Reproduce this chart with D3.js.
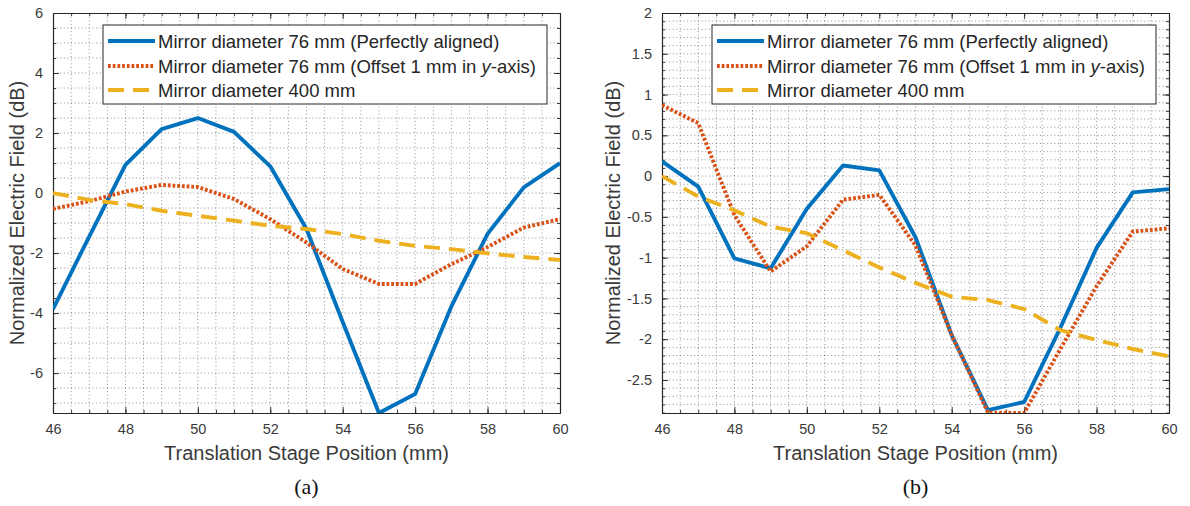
<!DOCTYPE html>
<html><head><meta charset="utf-8">
<script src="https://cdn.jsdelivr.net/npm/d3@7"></script>
<style>
body{margin:0;background:#fff;}
svg{display:block;font-family:"Liberation Sans",Arial,Helvetica,sans-serif;}
</style>
</head><body>
<svg id="c" width="1190" height="506"></svg>
<script>
// ---------- data ----------
const positions = [46,47,48,49,50,51,52,53,54,55,56,57,58,59,60];
const seriesNames = [
  "Mirror diameter 76 mm (Perfectly aligned)",
  "Mirror diameter 76 mm (Offset 1 mm in ",
  "Mirror diameter 400 mm"
];
// panel (a)
const aAligned = [-3.87,-1.45,0.94,2.13,2.5,2.04,0.89,-1.2,-4.3,-7.33,-6.7,-3.78,-1.36,0.19,1.0];
const aOffset  = [-0.53,-0.27,0.05,0.27,0.2,-0.2,-0.87,-1.65,-2.53,-3.03,-3.03,-2.37,-1.8,-1.15,-0.87];
const aLarge   = [0.0,-0.23,-0.37,-0.59,-0.76,-0.92,-1.09,-1.2,-1.37,-1.59,-1.76,-1.87,-2.01,-2.13,-2.23];
// panel (b)
const bAligned = [0.18,-0.13,-1.01,-1.13,-0.4,0.13,0.07,-0.75,-1.95,-2.87,-2.77,-1.86,-0.88,-0.2,-0.16];
const bOffset  = [0.87,0.65,-0.48,-1.17,-0.86,-0.29,-0.23,-0.85,-1.95,-2.9,-2.905,-2.12,-1.35,-0.68,-0.64];
const bLarge   = [0.0,-0.25,-0.42,-0.62,-0.7,-0.91,-1.12,-1.31,-1.48,-1.52,-1.63,-1.89,-2.01,-2.12,-2.21];
// ticks
const xTicks  = [46,48,50,52,54,56,58,60];
const aYTicks = [-6,-4,-2,0,2,4,6];
const bYTicks = [-2.5,-2,-1.5,-1,-0.5,0,0.5,1,1.5,2];
const panelLabels = ["(a)","(b)"];

// ---------- styling ----------
const colors = ["#0072BD","#D95319","#EDB120"];
const dashes = [null,"2.8,1.9","16,9"];
const axisColor = "#262626";

const svg = d3.select("#c");

const panels = [
  {left:53, right:560, top:13, bottom:413, yMax:6, yTicks:aYTicks, xMinor:0.5, yMinor:0.5,
   series:[aAligned,aOffset,aLarge], label:panelLabels[0], ylabX:17, legX:103},
  {left:662, right:1169, top:13, bottom:413, yMax:2, yTicks:bYTicks, xMinor:0.5, yMinor:0.1,
   series:[bAligned,bOffset,bLarge], label:panelLabels[1], ylabX:613, legX:712}
];

function rangeStep(a,b,s){
  const out=[];const n0=Math.ceil(a/s-1e-9), n1=Math.floor(b/s+1e-9);
  for(let n=n0;n<=n1;n++) out.push(+(n*s).toFixed(6));
  return out;
}

panels.forEach((p,pi)=>{
  const yMin = d3.min(p.series.flat());
  const x = d3.scaleLinear().domain([46,60]).range([p.left,p.right]);
  const y = d3.scaleLinear().domain([yMin,p.yMax]).range([p.bottom,p.top]);
  const g = svg.append("g");
  const w = p.right-p.left, h = p.bottom-p.top;

  // grid (dotted)
  const grid = g.append("g").attr("stroke","#262626").attr("stroke-opacity",0.5)
     .attr("stroke-width",1).attr("stroke-dasharray","1,2.6");
  rangeStep(46,60,p.xMinor).forEach(v=>{
    if (v===46||v===60) return;
    grid.append("line").attr("x1",x(v)).attr("x2",x(v)).attr("y1",p.top).attr("y2",p.bottom);
  });
  rangeStep(yMin,p.yMax,p.yMinor).forEach(v=>{
    if (Math.abs(y(v)-p.top)<0.5||Math.abs(y(v)-p.bottom)<0.5) return;
    grid.append("line").attr("x1",p.left).attr("x2",p.right).attr("y1",y(v)).attr("y2",y(v));
  });

  // axes with d3 axis generators (ticks inward)
  const fmt = d=>String(d);
  g.append("g").attr("transform",`translate(0,${p.bottom})`)
     .call(d3.axisBottom(x).tickValues(xTicks).tickFormat(fmt).tickSizeInner(-6).tickSizeOuter(0).tickPadding(11));
  g.append("g").attr("transform",`translate(${p.left},0)`)
     .call(d3.axisLeft(y).tickValues(p.yTicks).tickFormat(fmt).tickSizeInner(-6).tickSizeOuter(0).tickPadding(10));
  g.append("g").attr("transform",`translate(0,${p.top})`)
     .call(d3.axisTop(x).tickValues(xTicks).tickFormat("").tickSizeInner(-6).tickSizeOuter(0));
  g.append("g").attr("transform",`translate(${p.right},0)`)
     .call(d3.axisRight(y).tickValues(p.yTicks).tickFormat("").tickSizeInner(-6).tickSizeOuter(0));
  // minor ticks
  const xm = rangeStep(46,60,p.xMinor), ym = rangeStep(yMin,p.yMax,p.yMinor);
  g.append("g").attr("transform",`translate(0,${p.bottom})`)
     .call(d3.axisBottom(x).tickValues(xm).tickFormat("").tickSizeInner(-3).tickSizeOuter(0));
  g.append("g").attr("transform",`translate(0,${p.top})`)
     .call(d3.axisTop(x).tickValues(xm).tickFormat("").tickSizeInner(-3).tickSizeOuter(0));
  g.append("g").attr("transform",`translate(${p.left},0)`)
     .call(d3.axisLeft(y).tickValues(ym).tickFormat("").tickSizeInner(-3).tickSizeOuter(0));
  g.append("g").attr("transform",`translate(${p.right},0)`)
     .call(d3.axisRight(y).tickValues(ym).tickFormat("").tickSizeInner(-3).tickSizeOuter(0));
  g.selectAll(".domain").attr("stroke",axisColor).attr("stroke-width",1.1);
  g.selectAll(".tick line").attr("stroke",axisColor).attr("stroke-width",0.9);
  g.selectAll(".tick text").attr("fill","#3a3a3a").style("font-size","14.5px")
     .style("font-family",'"Liberation Sans",Arial,sans-serif');

  // clip
  const cid = "clip"+pi;
  svg.append("clipPath").attr("id",cid).append("rect")
     .attr("x",p.left).attr("y",p.top).attr("width",w).attr("height",h);

  const line = d3.line().x((d,i)=>x(positions[i])).y(d=>y(d));
  p.series.forEach((s,si)=>{
    g.append("path").datum(s).attr("d",line).attr("fill","none")
      .attr("clip-path",`url(#${cid})`)
      .attr("stroke",colors[si]).attr("stroke-width",3.9)
      .attr("stroke-linejoin","round")
      .attr("stroke-dasharray",dashes[si]);
  });

  // labels
  g.append("text").attr("x",(p.left+p.right)/2).attr("y",460)
    .attr("text-anchor","middle").attr("fill","#3a3a3a").style("font-size","20px")
    .text("Translation Stage Position (mm)");
  g.append("text").attr("transform",`translate(${p.ylabX+7},${(p.top+p.bottom)/2}) rotate(-90)`)
    .attr("text-anchor","middle").attr("fill","#3a3a3a").style("font-size","20px")
    .text("Normalized Electric Field (dB)");
  g.append("text").attr("x",(p.left+p.right)/2).attr("y",494)
    .attr("text-anchor","middle").attr("fill","#111")
    .style("font-family",'"Liberation Serif","Times New Roman",serif').style("font-size","22px")
    .text(p.label);

  // legend
  const lg = g.append("g");
  lg.append("rect").attr("x",p.legX).attr("y",25).attr("width",444).attr("height",79)
    .attr("fill","#fff").attr("stroke","#262626").attr("stroke-width",1);
  const rowsY = [41,66,90];
  seriesNames.forEach((nm,si)=>{
    lg.append("line").attr("x1",p.legX+5).attr("x2",p.legX+52)
      .attr("y1",rowsY[si]).attr("y2",rowsY[si])
      .attr("stroke",colors[si]).attr("stroke-width",3.9).attr("stroke-dasharray",dashes[si]);
    const t = lg.append("text").attr("x",p.legX+55).attr("y",rowsY[si]+6.5)
      .attr("fill","#262626").style("font-size","18.5px");
    t.append("tspan").text(nm);
    if (si===1){
      t.append("tspan").style("font-style","italic").text("y");
      t.append("tspan").text("-axis)");
    }
  });
});
</script>
</body></html>
